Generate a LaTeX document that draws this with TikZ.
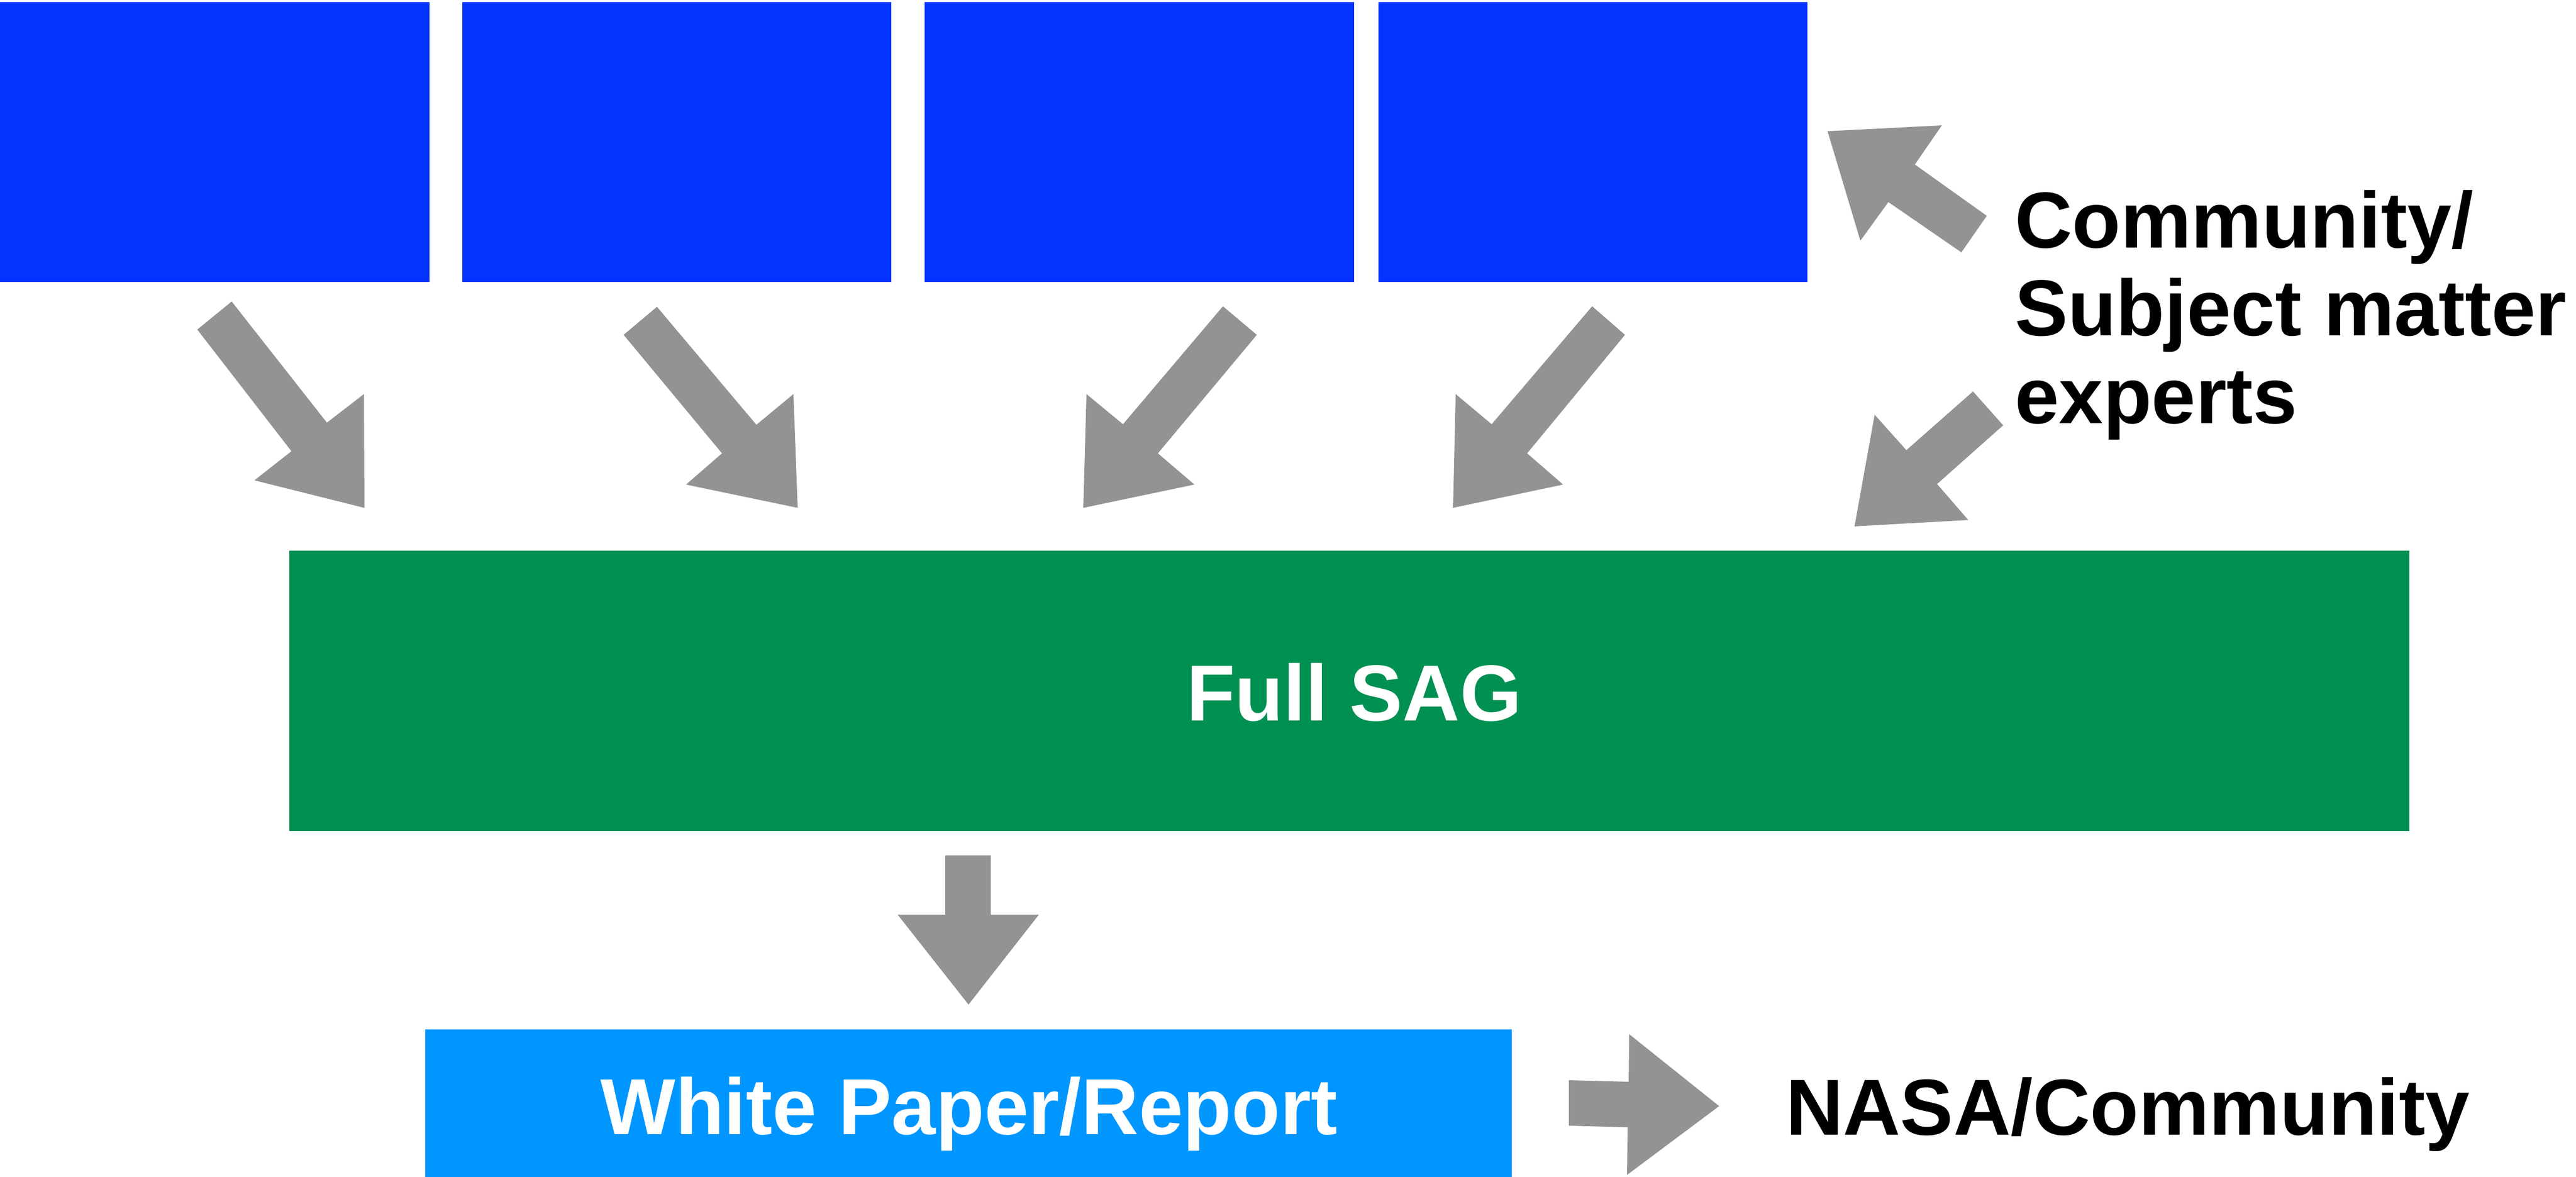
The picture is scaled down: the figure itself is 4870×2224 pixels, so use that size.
\documentclass[tikz,border=0pt]{standalone}
\usepackage{fontspec}
\setmainfont{Liberation Sans}
\definecolor{blueberry}{HTML}{0433FF}
\definecolor{moss}{HTML}{009051}
\definecolor{aqua}{HTML}{0096FF}
\definecolor{arrowgray}{HTML}{939393}
\begin{document}
\begin{tikzpicture}[x=0.01cm,y=-0.01cm,
  box/.style={inner sep=0, outer sep=0, draw=none, anchor=north west},
  lbl/.style={font=\fontsize{42.7}{47.2}\selectfont\bfseries, inner sep=0, outer sep=0},
  blockarrow/.style={fill=arrowgray, draw=none}]
\useasboundingbox (0,0) rectangle (4870,2224);
% top boxes
\node[box, fill=blueberry, minimum width=8.12cm, minimum height=5.29cm] (b1) at (0,4) {};
\node[box, fill=blueberry, minimum width=8.11cm, minimum height=5.29cm] (b2) at (874,4) {};
\node[box, fill=blueberry, minimum width=8.11cm, minimum height=5.29cm] (b3) at (1748,4) {};
\node[box, fill=blueberry, minimum width=8.10cm, minimum height=5.29cm] (b4) at (2606,4) {};
% full SAG
\node[box, fill=moss, minimum width=40.06cm, minimum height=5.30cm] (sag) at (547,1041) {};
\node[lbl, text=white, anchor=base] (sagtext) at (2560,1362) {Full SAG};
% white paper
\node[box, fill=aqua, minimum width=20.53cm, minimum height=2.80cm] (wp) at (804,1946) {};
\node[lbl, text=white, anchor=base] (wptext) at (1832,2144) {White Paper/Report};
% labels
\node[lbl, anchor=base west] (nasa) at (3376,2145) {NASA/Community};
\node[lbl, anchor=base west, align=left] (cse) at (3809,800) {Community/\\Subject matter\\experts};
% arrows from top boxes
\fill[blockarrow] (438,570) -- (373,623) -- (551,853) -- (481,908) -- (689,960) -- (688,745) -- (618,799) -- cycle;
\fill[blockarrow] (1242,580) -- (1179,633) -- (1365,857) -- (1297,916) -- (1508,960) -- (1500,745) -- (1430,803) -- cycle;
\fill[blockarrow] (2312,579) -- (2376,633) -- (2189,857) -- (2258,916) -- (2048,960) -- (2054,745) -- (2123,802) -- cycle;
\fill[blockarrow] (3010,579) -- (3072,633) -- (2887,857) -- (2955,916) -- (2747,960) -- (2752,745) -- (2820,802) -- cycle;
% arrows from experts
\fill[blockarrow] (3730,740) -- (3787,804) -- (3662,915) -- (3721,983) -- (3506,995) -- (3544,784) -- (3604,851) -- cycle;
\fill[blockarrow] (3455,248) -- (3671,237) -- (3620,311) -- (3756,408) -- (3708,477) -- (3570,382) -- (3517,455) -- cycle;
% down arrow
\fill[blockarrow] (1787,1617) -- (1873,1617) -- (1873,1729) -- (1964,1729) -- (1831,1899) -- (1697,1729) -- (1787,1729) -- cycle;
% right arrow
\fill[blockarrow] (2966,2042) -- (3079,2045) -- (3080,1955) -- (3250,2091) -- (3076,2221) -- (3077,2131) -- (2966,2128) -- cycle;
\end{tikzpicture}
\end{document}
